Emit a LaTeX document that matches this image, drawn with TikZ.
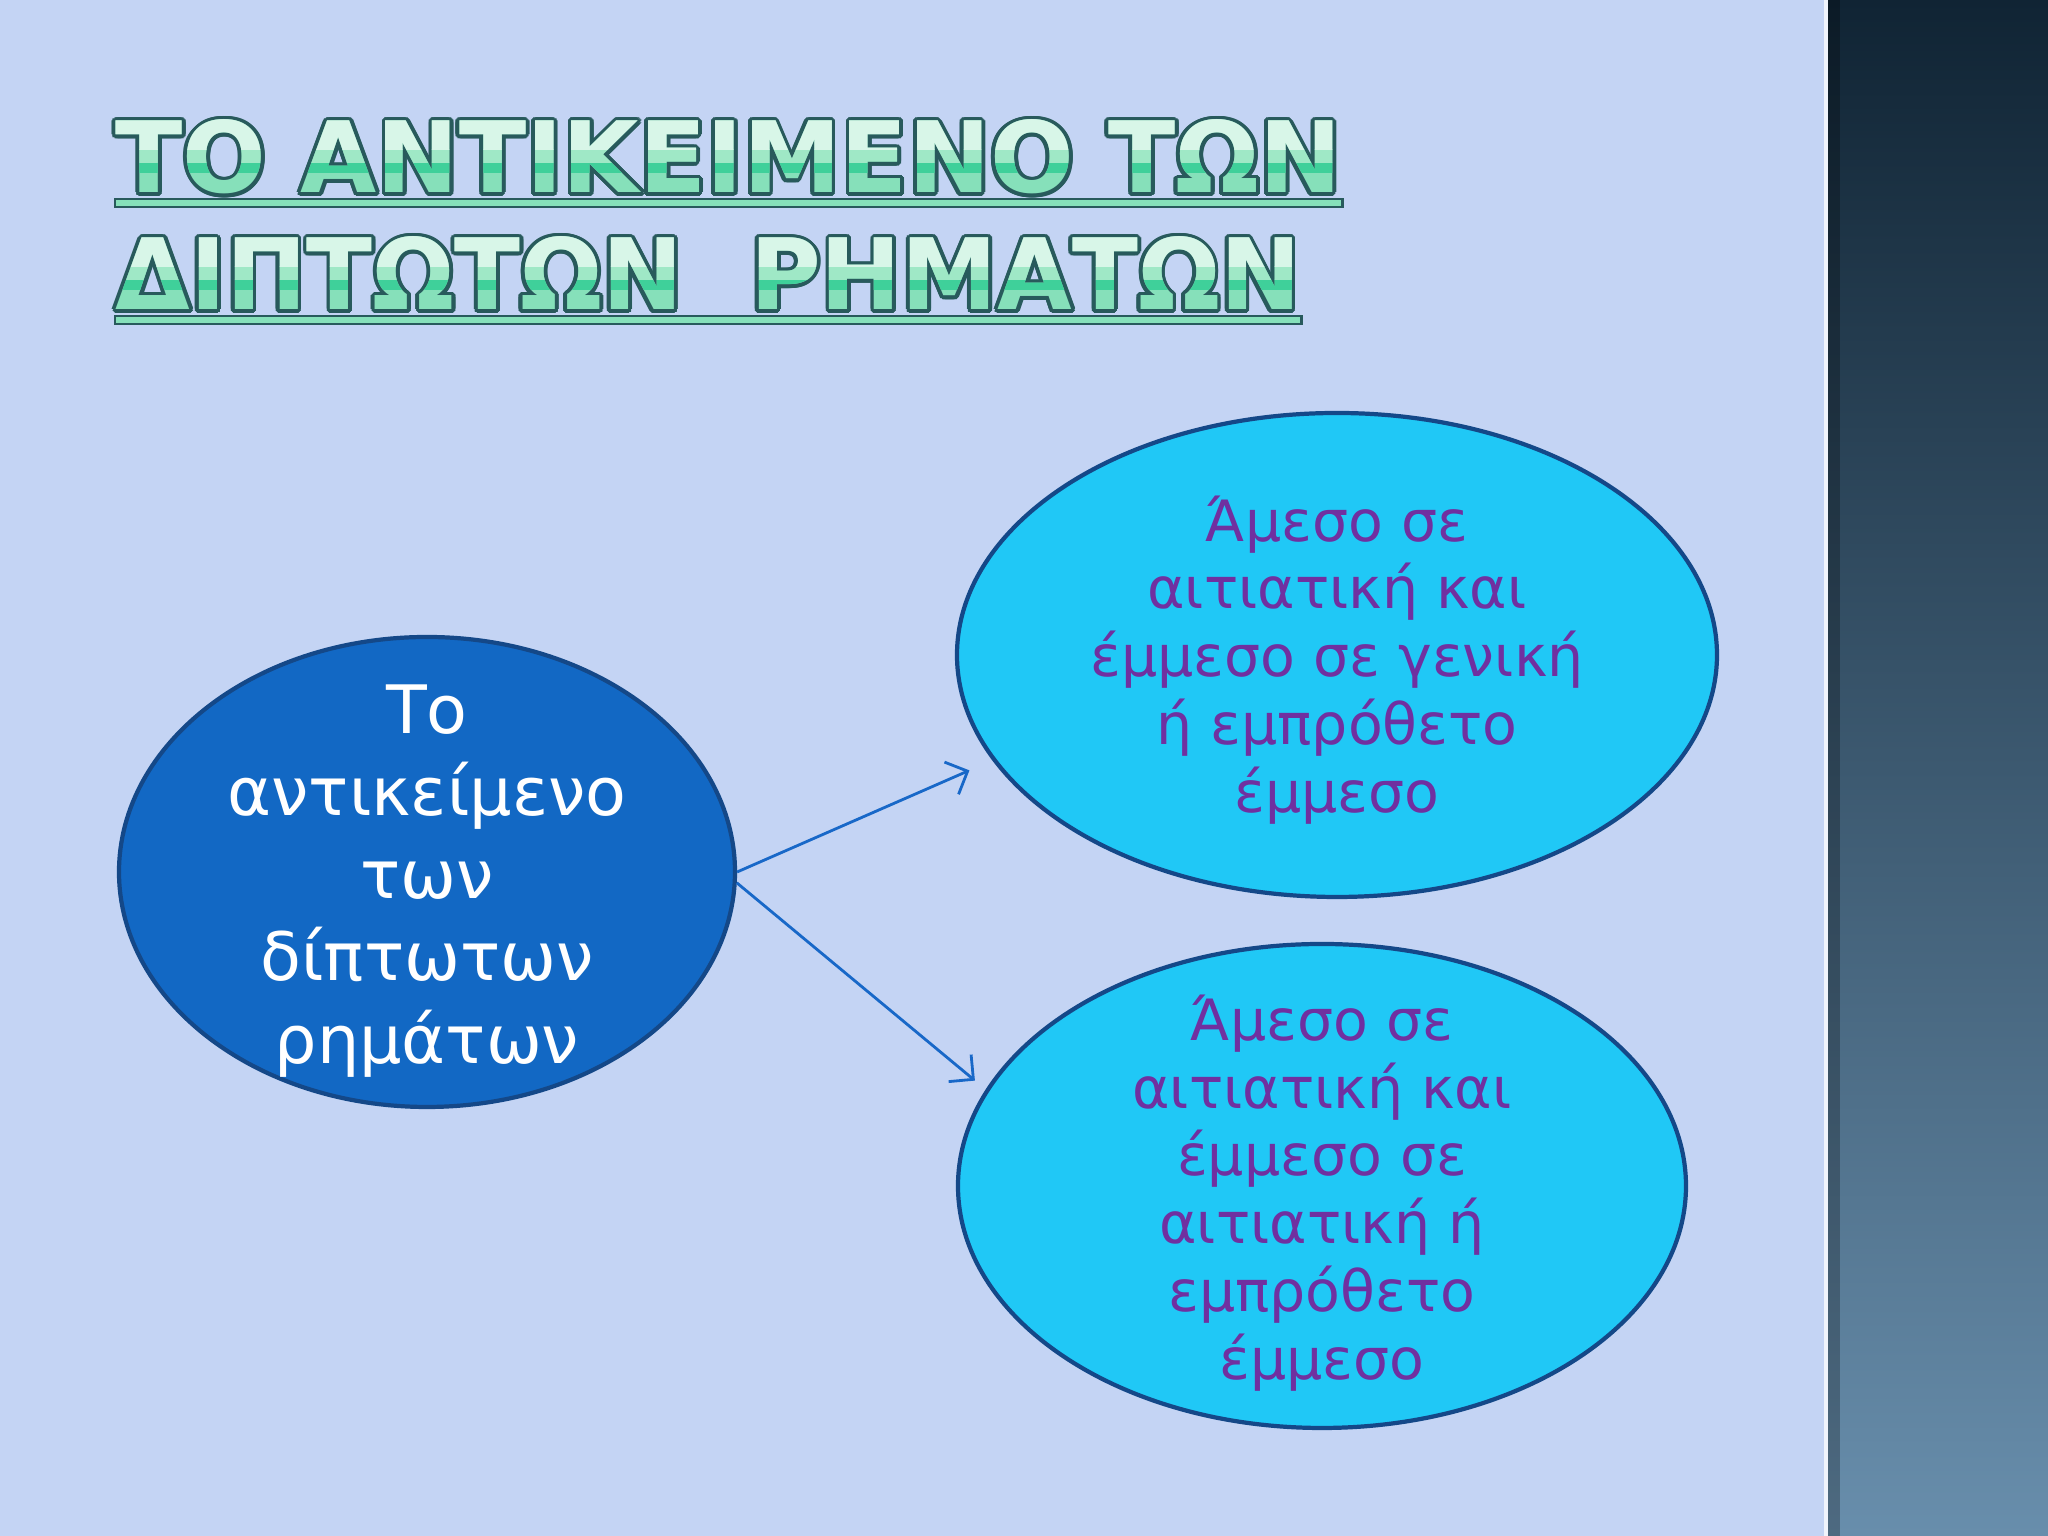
\documentclass[tikz,border=0pt]{standalone}
\usepackage{fontspec}
\setmainfont{DejaVu Sans}
\usepackage{tikz}
\usetikzlibrary{shapes.geometric,arrows.meta}
\usepackage[copies]{contour}
\contourlength{1.1pt}

\definecolor{slidebg}{RGB}{196,212,244}
\definecolor{paneltop}{RGB}{16,36,52}
\definecolor{panelbot}{RGB}{104,142,172}
\definecolor{titlebase}{RGB}{134,224,186}
\definecolor{titlemid}{RGB}{63,208,154}
\definecolor{titlesoft}{RGB}{159,232,198}
\definecolor{titlelight}{RGB}{216,246,232}
\definecolor{titleedge}{RGB}{40,90,92}
\definecolor{darkblob}{RGB}{18,104,196}
\definecolor{lightblob}{RGB}{32,200,246}
\definecolor{blobedge}{RGB}{20,72,136}
\definecolor{arrowblue}{RGB}{24,104,200}
\definecolor{textpurple}{RGB}{112,48,160}

\newcommand\titleone{ΤΟ ΑΝΤΙΚΕΙΜΕΝΟ ΤΩΝ}
\newcommand\titletwo{ΔΙΠΤΩΤΩΝ\ \ ΡΗΜΑΤΩΝ}

\tikzset{
  title/.style={anchor=base west, inner sep=0pt, font=\bfseries\fontsize{28}{30}\selectfont},
  titlebar/.style={fill=titlebase, draw=titleedge, line width=0.8pt},
  blob/.style={ellipse, draw=blobedge, line width=1.2pt, inner sep=0pt},
  blobtext/.style={align=center, text=textpurple, font=\fontsize{16.2}{19.3}\selectfont},
  link/.style={-{Straight Barb[length=5pt,width=10pt]}, draw=arrowblue, line width=0.8pt}
}

\begin{document}
\begin{tikzpicture}
  \useasboundingbox (0,0) rectangle (20.48,15.36);
  \fill[slidebg] (0,0) rectangle (18.26,15.36);
  \shade[top color=paneltop, bottom color=panelbot] (18.26,0) rectangle (20.48,15.36);
  \fill[black, opacity=0.25] (18.26,0) rectangle (18.40,15.36);
  \draw[white!75!slidebg, line width=1pt] (18.26,0) -- (18.26,15.36);

  % title, two lines with banded fill
  \node[title, text=titlebase] (t1) at (1.15,13.43) {\contour{titleedge}{\titleone}};
  \node[title, text=titlebase, xscale=0.98] (t2) at (1.15,12.26) {\contour{titleedge}{\titletwo}};
  \foreach \lo/\hi/\col in {0.28/0.42/titlemid, 0.42/0.6/titlesoft, 0.6/1.2/titlelight} {
    \begin{scope}
      \clip (0,{13.43+\lo*0.73}) rectangle (18,{13.43+\hi*0.73});
      \node[title, text=\col] (t1\col) at (1.15,13.43) {\titleone};
    \end{scope}
    \begin{scope}
      \clip (0,{12.26+\lo*0.73}) rectangle (18,{12.26+\hi*0.73});
      \node[title, text=\col, xscale=0.98] (t2\col) at (1.15,12.26) {\titletwo};
    \end{scope}
  }
  \draw[titlebar] ([yshift=-0.06cm]t1.base west) rectangle ([yshift=-0.14cm]t1.base east);
  \draw[titlebar] ([yshift=-0.06cm]t2.base west) rectangle ([yshift=-0.14cm]t2.base east);

  \node[blob, fill=darkblob, minimum width=6.16cm, minimum height=4.70cm] (subj) at (4.27,6.64) {};
  \node[align=center, text=white, font=\fontsize{19}{23.5}\selectfont, yshift=-0.09cm] (subjtext) at (subj) {Το\\αντικείμενο\\των\\δίπτωτων\\ρημάτων};

  \node[blob, fill=lightblob, minimum width=7.60cm, minimum height=4.84cm] (genobj) at (13.37,8.81) {};
  \node[blobtext, yshift=-0.05cm] (genobjtext) at (genobj) {Άμεσο σε\\αιτιατική και\\έμμεσο σε γενική\\ή εμπρόθετο\\έμμεσο};

  \node[blob, fill=lightblob, minimum width=7.28cm, minimum height=4.84cm] (accobj) at (13.22,3.50) {};
  \node[blobtext, yshift=-0.07cm] (accobjtext) at (accobj) {Άμεσο σε\\αιτιατική και\\έμμεσο σε\\αιτιατική ή\\εμπρόθετο\\έμμεσο};

  \draw[link, shorten >=0.25cm] (subj.east) -- (genobj.197);
  \draw[link, shorten >=0.14cm] (subj.-2) -- (accobj.164);
\end{tikzpicture}
\end{document}
